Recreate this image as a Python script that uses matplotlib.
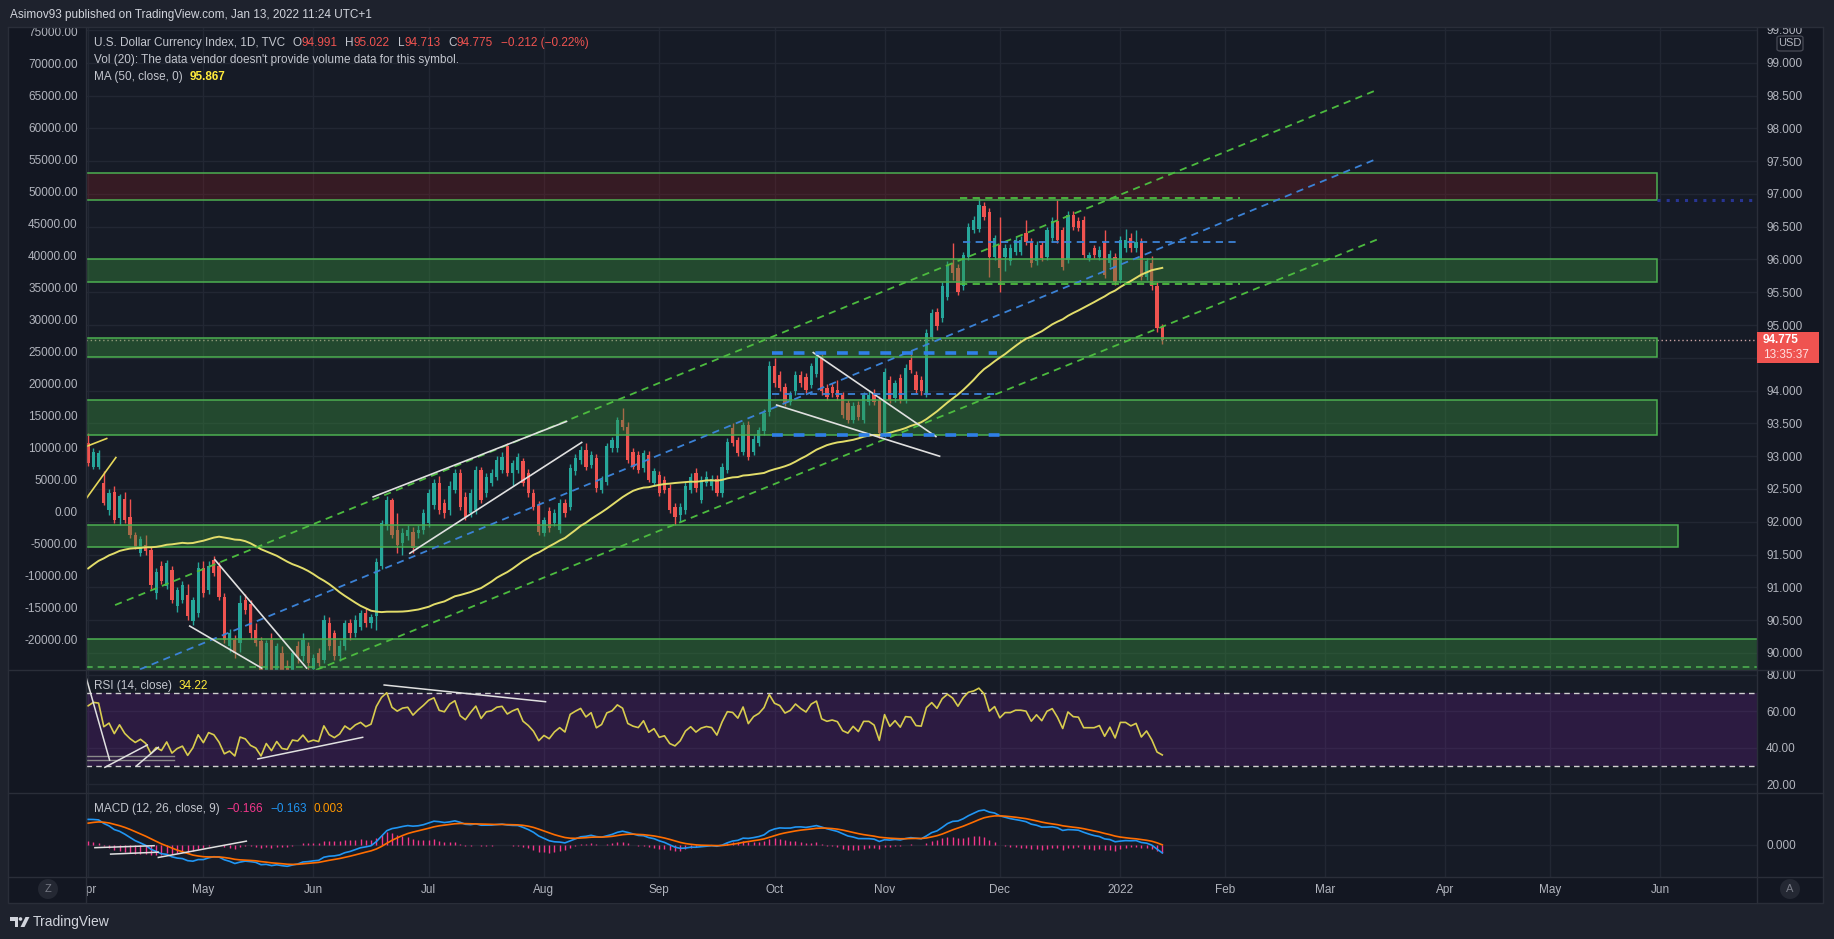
import numpy as np
import pandas as pd
import matplotlib
matplotlib.use('Agg')
import matplotlib.pyplot as plt
from matplotlib.patches import Rectangle, Ellipse, Polygon, FancyBboxPatch

plt.rcParams['font.family'] = ['Liberation Sans', 'DejaVu Sans']

W, H = 1834, 939

# daily candles, TVC:DXY, 2021-04-01 .. 2022-01-13
opens = [
    93.20, 92.84, 92.84, 92.59, 92.18, 92.46, 92.06, 92.34, 92.08, 91.80,
    91.52, 91.65, 91.57, 90.91, 91.32, 91.02, 91.27, 90.71, 90.81, 90.89,
    90.48, 90.61, 91.29, 90.96, 91.42, 91.32, 90.86, 90.10, 90.20, 90.15,
    90.81, 90.74, 90.35, 90.18, 89.65, 90.20, 89.70, 90.00, 89.80, 89.62,
    90.10, 89.95, 90.10, 89.75, 90.00, 89.90, 90.46, 90.30, 89.95, 90.10,
    90.45, 90.30, 90.40, 90.61, 90.45, 90.56, 91.32, 91.93, 92.33, 91.88,
    91.67, 91.78, 91.85, 91.83, 91.88, 91.98, 92.26, 92.59, 92.28, 92.18,
    92.49, 92.74, 92.38, 92.13, 92.18, 92.79, 92.44, 92.59, 92.69, 92.79,
    93.15, 92.74, 92.79, 92.92, 92.74, 92.44, 92.26, 91.83, 92.16, 91.98,
    91.88, 92.28, 92.23, 92.77, 92.94, 93.10, 92.87, 92.97, 92.49, 92.61,
    93.12, 93.12, 93.55, 93.45, 93.07, 93.02, 92.82, 93.02, 92.59, 92.71,
    92.64, 92.51, 92.23, 92.11, 92.18, 92.49, 92.74, 92.33, 92.59, 92.54,
    92.66, 92.44, 92.79, 93.43, 93.25, 93.07, 93.48, 93.07, 93.20, 93.38,
    93.68, 94.37, 94.24, 94.06, 93.83, 93.99, 94.24, 94.21, 94.09, 94.26,
    94.52, 94.04, 94.06, 94.01, 93.93, 93.81, 93.55, 93.78, 93.55, 93.83,
    93.96, 93.86, 93.35, 94.16, 93.88, 94.19, 93.86, 94.47, 94.24, 94.16,
    93.96, 94.82, 95.20, 95.10, 95.43, 95.94, 95.87, 95.59, 96.04, 96.45,
    96.47, 96.81, 96.73, 96.04, 96.22, 96.04, 95.97, 96.12, 96.12, 96.40,
    96.27, 95.97, 96.22, 96.04, 96.32, 96.58, 96.45, 95.99, 96.68, 96.58,
    96.60, 96.02, 96.17, 96.04, 96.27, 95.94, 96.04, 95.69, 96.17, 96.32,
    96.17, 96.27, 95.74, 95.94, 95.59, 94.991]
highs = [
    93.35, 93.12, 93.10, 92.77, 92.50, 92.55, 92.42, 92.45, 92.34, 91.85,
    91.78, 91.80, 91.62, 91.30, 91.40, 91.42, 91.33, 91.00, 91.10, 91.05,
    90.86, 91.38, 91.40, 91.40, 91.48, 91.38, 90.92, 90.36, 90.28, 90.88,
    90.90, 90.80, 90.45, 90.24, 90.20, 90.30, 90.15, 90.10, 89.90, 90.05,
    90.18, 90.30, 90.16, 89.98, 90.08, 90.58, 90.55, 90.35, 90.20, 90.50,
    90.52, 90.58, 90.66, 90.68, 90.60, 91.45, 92.03, 92.40, 92.36, 92.13,
    91.90, 91.95, 91.92, 91.95, 92.20, 92.50, 92.65, 92.70, 92.34, 92.62,
    92.80, 92.80, 92.46, 92.50, 92.85, 92.84, 92.75, 92.80, 93.00, 93.07,
    93.20, 92.94, 93.05, 92.98, 92.80, 92.50, 92.32, 92.08, 92.22, 92.20,
    92.35, 92.34, 92.88, 93.03, 93.15, 93.20, 93.08, 93.03, 92.70, 93.20,
    93.30, 93.60, 93.73, 93.52, 93.12, 93.08, 93.10, 93.08, 92.82, 92.78,
    92.70, 92.58, 92.28, 92.28, 92.60, 92.74, 92.82, 92.70, 92.78, 92.72,
    92.72, 92.90, 93.28, 93.50, 93.30, 93.52, 93.54, 93.32, 93.45, 93.72,
    94.45, 94.50, 94.30, 94.12, 94.00, 94.30, 94.30, 94.27, 94.42, 94.58,
    94.56, 94.10, 94.12, 94.16, 93.98, 93.86, 93.82, 93.84, 93.98, 93.99,
    94.02, 93.92, 94.35, 94.22, 94.16, 94.25, 94.40, 94.62, 94.30, 94.22,
    94.94, 95.24, 95.26, 95.65, 95.98, 96.25, 95.93, 96.12, 96.56, 96.66,
    96.93, 96.87, 96.78, 96.38, 96.65, 96.23, 96.23, 96.36, 96.36, 96.60,
    96.33, 96.28, 96.28, 96.50, 96.64, 96.91, 96.50, 96.74, 96.74, 96.64,
    96.66, 96.12, 96.22, 96.20, 96.45, 96.14, 96.10, 96.36, 96.47, 96.40,
    96.45, 96.33, 96.02, 96.05, 95.66, 95.022]
lows = [
    92.85, 92.80, 92.80, 92.25, 92.10, 91.98, 91.95, 91.98, 91.76, 91.58,
    91.48, 91.50, 90.98, 90.82, 91.05, 90.98, 90.76, 90.62, 90.76, 90.50,
    90.42, 90.55, 90.86, 90.90, 91.18, 90.80, 90.15, 90.02, 89.92, 90.02,
    90.60, 90.22, 90.10, 89.60, 89.60, 89.65, 89.60, 89.60, 89.50, 89.55,
    89.85, 89.88, 89.70, 89.65, 89.80, 89.85, 90.05, 89.90, 89.88, 90.05,
    90.20, 90.25, 90.35, 90.40, 90.38, 90.35, 91.28, 91.88, 91.75, 91.52,
    91.50, 91.72, 91.52, 91.76, 91.82, 91.92, 92.20, 92.12, 92.06, 92.10,
    92.44, 92.18, 92.02, 92.08, 92.12, 92.28, 92.38, 92.54, 92.64, 92.74,
    92.70, 92.54, 92.74, 92.54, 92.38, 92.18, 91.80, 91.78, 91.85, 91.93,
    91.83, 92.08, 92.18, 92.72, 92.88, 92.79, 92.82, 92.46, 92.44, 92.56,
    93.07, 93.07, 93.40, 92.90, 92.80, 92.74, 92.76, 92.60, 92.54, 92.40,
    92.44, 92.14, 91.95, 92.00, 92.12, 92.44, 92.46, 92.28, 92.54, 92.48,
    92.40, 92.38, 92.74, 93.15, 93.00, 93.02, 92.94, 93.02, 93.15, 93.33,
    93.62, 94.06, 94.00, 93.76, 93.78, 93.94, 94.06, 93.96, 94.04, 94.21,
    93.94, 93.86, 93.90, 93.86, 93.58, 93.50, 93.50, 93.55, 93.50, 93.78,
    93.78, 93.28, 93.30, 93.81, 93.83, 93.81, 93.81, 94.27, 93.96, 93.94,
    93.91, 94.77, 94.93, 95.05, 95.38, 95.69, 95.46, 95.54, 95.99, 96.40,
    96.42, 96.60, 95.74, 95.99, 95.51, 95.82, 95.92, 96.07, 96.07, 96.22,
    95.89, 95.92, 95.97, 95.99, 96.27, 96.25, 95.84, 95.94, 96.45, 96.43,
    96.02, 95.97, 96.02, 95.99, 95.71, 95.89, 95.61, 95.64, 96.12, 96.12,
    96.12, 95.69, 95.69, 95.54, 94.90, 94.713]
closes = [
    92.89, 93.07, 93.05, 92.29, 92.44, 92.03, 92.39, 92.03, 91.80, 91.62,
    91.73, 91.55, 91.04, 91.24, 91.09, 91.37, 90.81, 90.96, 91.04, 90.56,
    90.81, 91.29, 90.91, 91.32, 91.22, 90.86, 90.20, 90.30, 90.00, 90.76,
    90.66, 90.30, 90.15, 89.65, 90.15, 89.70, 90.10, 89.66, 89.60, 90.00,
    89.95, 90.20, 89.85, 89.92, 89.85, 90.51, 90.10, 89.95, 90.10, 90.45,
    90.30, 90.50, 90.61, 90.45, 90.55, 91.39, 91.98, 92.33, 91.80, 91.65,
    91.83, 91.88, 91.60, 91.88, 92.13, 92.44, 92.59, 92.18, 92.13, 92.54,
    92.74, 92.23, 92.08, 92.44, 92.79, 92.33, 92.69, 92.74, 92.94, 92.99,
    92.74, 92.89, 92.99, 92.59, 92.44, 92.23, 91.85, 92.03, 91.90, 92.13,
    92.28, 92.13, 92.82, 92.97, 93.10, 92.84, 93.02, 92.51, 92.64, 93.15,
    93.25, 93.55, 93.45, 92.94, 92.84, 92.79, 93.05, 92.64, 92.77, 92.44,
    92.49, 92.18, 92.08, 92.23, 92.54, 92.69, 92.51, 92.64, 92.69, 92.66,
    92.44, 92.84, 93.22, 93.20, 93.05, 93.48, 92.99, 93.27, 93.40, 93.66,
    94.37, 94.11, 94.04, 93.81, 93.93, 94.24, 94.11, 94.01, 94.37, 94.52,
    93.99, 93.91, 93.96, 93.91, 93.63, 93.55, 93.76, 93.60, 93.93, 93.93,
    93.83, 93.35, 94.29, 93.86, 94.11, 93.86, 94.34, 94.32, 94.01, 93.99,
    94.88, 95.18, 94.98, 95.59, 95.92, 95.79, 95.51, 96.07, 96.50, 96.60,
    96.83, 96.65, 96.04, 96.32, 95.87, 96.17, 96.17, 96.30, 96.30, 96.27,
    95.94, 96.22, 96.02, 96.45, 96.58, 96.30, 95.89, 96.68, 96.50, 96.48,
    96.07, 96.07, 96.07, 96.15, 95.76, 96.09, 95.66, 96.30, 96.30, 96.17,
    96.27, 95.74, 95.97, 95.59, 94.95, 94.775]

# closes before the visible range (Jan 19 .. Mar 31 2021), only to seed MA / RSI / MACD
warmup_closes = [
    90.48, 90.49, 90.08, 90.23, 90.38, 90.17, 90.46, 90.58,
    91.04, 91.02, 91.29, 91.53, 91.05, 91.04, 90.93, 90.43, 90.44, 90.48,
    90.36, 90.50, 90.91, 90.59, 90.36, 90.09, 90.13, 90.03, 90.16, 90.88,
    90.99, 90.85, 91.00, 91.63, 91.94, 92.34, 91.94, 91.83, 91.46, 91.67,
    91.92, 91.81, 91.94, 91.42, 91.90, 91.86, 92.33, 92.55, 92.78, 92.69,
    92.96, 93.32, 93.23]

# support / resistance zones (price)
zone_lo = [96.90, 95.65, 94.52, 93.33, 91.61, 89.40]
zone_hi = [97.32, 96.00, 94.80, 93.86, 91.95, 90.21]
zone_end = [299.5, 299.5, 299.5, 299.5, 303.5, 340.0]
zone_red = [True, False, False, False, False, False]

# drawings: (bar0, price0, bar1, price1)
channel_green = [(5.15, 90.73, 245.5, 98.57), (43.5, 89.74, 246.5, 96.32)]
channel_blue = [(9.9, 89.75, 245.5, 97.52)]
white_lines = [(138.4, 94.58, 161.8, 93.30), (131.4, 93.78, 162.5, 93.00),
               (54.4, 92.38, 91.3, 93.53), (61.4, 91.52, 94.2, 93.21),
               (24.2, 91.42, 41.7, 89.77), (19.4, 90.41, 33.1, 89.77)]
yellow_lines = [(-0.3, 93.15, 3.55, 93.27), (-0.3, 92.36, 5.3, 92.98)]
# horizontal dashed levels: (price, bar0, bar1)
green_levels = [(96.93, 166.4, 219.8), (95.63, 166.4, 219.8)]
blue_levels_thin = [(96.27, 167.0, 220.0), (93.95, 130.5, 173.0)]
blue_levels_thick = [(94.57, 130.5, 173.4), (93.33, 130.5, 174.0)]
rsi_lines = [(-0.6, 80.9, 4.1, 33.2), (3.2, 29.2, 11.3, 41.5), (9.2, 29.9, 13.4, 40.2),
             (32.4, 33.8, 52.4, 45.7), (56.5, 74.5, 87.3, 65.3)]
rsi_gray = [(35.4, -0.6, 16.4), (33.2, -0.6, 16.4)]
macd_lines = [(1.3, -0.056, 12.6, -0.015), (4.3, -0.19, 13.4, -0.15),
              (13.4, -0.26, 30.2, 0.08)]

price_ticks = np.arange(90.0, 99.51, 0.5)
vol_ticks = np.arange(-20000, 75001, 5000)

# ---- indicators
o = np.array(opens); h = np.array(highs); l = np.array(lows); c = np.array(closes)
n = len(c)
nw = len(warmup_closes)
full = pd.Series(warmup_closes + closes)
ma50 = full.rolling(50).mean().values[nw:]
delta = full.diff()
gain = delta.clip(lower=0).ewm(alpha=1 / 14, adjust=False).mean()
loss = (-delta.clip(upper=0)).ewm(alpha=1 / 14, adjust=False).mean()
rsi = (100 - 100 / (1 + gain / loss)).values[nw:]
macd_s = full.ewm(span=12, adjust=False).mean() - full.ewm(span=26, adjust=False).mean()
sig_s = macd_s.ewm(span=9, adjust=False).mean()
macd = macd_s.values[nw:]
sig = sig_s.values[nw:]
hist = macd - sig

# dates: history + future (US holidays skipped in the future part)
x_left, x_right = -0.4, 318.5
hist_dates = pd.bdate_range('2021-04-01', '2022-01-13')
fut = pd.bdate_range('2022-01-14', '2022-07-29')
fut = fut[~fut.isin(pd.to_datetime(['2022-01-17', '2022-02-21', '2022-04-15', '2022-05-30']))]
dates = hist_dates.append(fut)
month_pos, month_lab = [], []
for i in range(len(dates)):
    if i > x_right - 3:
        break
    if i == 0 or dates[i].month != dates[i - 1].month:
        month_pos.append(i)
        month_lab.append(str(dates[i].year) if dates[i].month == 1 else dates[i].strftime('%b'))

# ---- colours
bg_fig = '#1e222d'
bg_axis = '#131722'
bg_pane = '#161b26'
grid_col = '#222733'
sep_col = '#2a2e39'
txt = '#b2b5be'
up_col = '#26a69a'
dn_col = '#ef5350'


def fx(x):
    return x / W


def fy(y):
    return 1 - y / H


def box(x0, y0, x1, y1):
    return [x0 / W, 1 - y1 / H, (x1 - x0) / W, (y1 - y0) / H]


fig = plt.figure(figsize=(W / 100, H / 100), dpi=100, facecolor=bg_fig)
fig.add_artist(Rectangle((fx(8), fy(903)), (1823 - 8) / W, (903 - 26) / H,
                         transform=fig.transFigure, facecolor=bg_axis,
                         edgecolor=sep_col, lw=1, zorder=-1))

ax = fig.add_axes(box(86, 26, 1757, 670), facecolor=bg_pane)
# left "volume" scale; twinx moves the main ticks, so it is made first
axl = ax.twinx()
ax_rsi = fig.add_axes(box(86, 670, 1757, 793), facecolor=bg_pane)
ax_macd = fig.add_axes(box(86, 793, 1757, 877), facecolor=bg_pane)
ax_time = fig.add_axes(box(86, 877, 1757, 903), facecolor=bg_axis)

for a in (ax, ax_rsi, ax_macd, ax_time):
    a.set_xlim(x_left, x_right)
    for s in a.spines.values():
        s.set_visible(False)
    a.set_xticks(month_pos)
    a.tick_params(axis='x', length=0, labelbottom=False)
    a.set_axisbelow(True)
for a in (ax, ax_rsi, ax_macd):
    a.grid(color=grid_col, lw=1)
    a.yaxis.tick_right()
    a.tick_params(axis='y', which='both', length=0, pad=6.5, labelsize=8.5,
                  labelcolor=txt, left=False, labelleft=False, right=True, labelright=True)
ax_time.set_yticks([])

# main pane scales (94.500 sits under the last-price label)
ax.set_ylim(89.74, 99.56)
ax.set_yticks(price_ticks)
ax.set_yticklabels(['' if abs(v - 94.5) < 1e-6 else f'{v:.3f}' for v in price_ticks])

axl.set_ylim(-24687.5, 75937.5)
axl.set_yticks(vol_ticks)
axl.set_yticklabels([f'{v:.2f}' for v in vol_ticks])
axl.tick_params(axis='y', length=0, pad=6, labelsize=8.5, labelcolor=txt,
                left=True, labelleft=True, right=False, labelright=False)
axl.grid(False)
for s in axl.spines.values():
    s.set_visible(False)

# candles
x = np.arange(n)
cols = np.where(c >= o, up_col, dn_col)
ax.vlines(x, l, h, colors=cols, lw=1, zorder=2)
ax.bar(x, np.maximum(np.abs(c - o), 0.012), bottom=np.minimum(o, c), width=0.62,
       color=cols, lw=0, zorder=2)

# last price line
ax.axhline(c[-1], color='#c9a3a3', lw=1, ls=(0, (1, 2)), zorder=2.5)

# zones (drawn over candles)
for lo, hi, end, red in zip(zone_lo, zone_hi, zone_end, zone_red):
    fc = (0.72, 0.11, 0.11, 0.2) if red else (0.22, 0.56, 0.24, 0.4)
    ax.add_patch(Rectangle((-5, lo), end + 5, hi - lo, facecolor=fc,
                           edgecolor='#4caf50', lw=1.1, zorder=3))
ax.plot([zone_end[0], 330], [zone_lo[0], zone_lo[0]], color='#283593', lw=2.2,
        ls=(0, (1, 2)), zorder=3)
ax.axhline(89.79, color='#4caf50', lw=1.2, ls=(0, (4, 3)), zorder=3.5)

ax.plot(x, ma50, color='#e2dd6a', lw=1.4, zorder=5)

for x0, y0, x1, y1 in channel_green:
    ax.plot([x0, x1], [y0, y1], color='#4cbb3f', lw=1.3, ls=(0, (4, 3)), zorder=6)
for x0, y0, x1, y1 in channel_blue:
    ax.plot([x0, x1], [y0, y1], color='#3b82d6', lw=1.3, ls=(0, (4, 3)), zorder=6)
for x0, y0, x1, y1 in white_lines:
    ax.plot([x0, x1], [y0, y1], color='#e0e0e0', lw=1.2, zorder=6)
for x0, y0, x1, y1 in yellow_lines:
    ax.plot([x0, x1], [y0, y1], color='#e6d85a', lw=1.2, zorder=6)
for p, x0, x1 in green_levels:
    ax.plot([x0, x1], [p, p], color='#4cbb3f', lw=1.3, ls=(0, (4, 3)), zorder=6)
for p, x0, x1 in blue_levels_thin:
    ax.plot([x0, x1], [p, p], color='#3b82d6', lw=1.3, ls=(0, (4, 3)), zorder=6)
for p, x0, x1 in blue_levels_thick:
    ax.plot([x0, x1], [p, p], color='#2f7fe8', lw=2.6, ls=(0, (3, 3)), zorder=6)

# RSI pane
ax_rsi.set_ylim(15.06, 82.75)
ax_rsi.set_yticks([20, 40, 60, 80])
ax_rsi.set_yticklabels(['20.00', '40.00', '60.00', '80.00'])
ax_rsi.axhspan(30, 70, color='#7b1fa2', alpha=0.22, lw=0, zorder=1)
for lev in (70, 30):
    ax_rsi.axhline(lev, color='#d0d0d0', lw=1, ls=(0, (4, 3)), zorder=2)
ax_rsi.plot(x, rsi, color='#d8cc4e', lw=1.2, zorder=4)
for p, x0, x1 in rsi_gray:
    ax_rsi.plot([x0, x1], [p, p], color='#8a8a8a', lw=1, zorder=3)
for x0, y0, x1, y1 in rsi_lines:
    ax_rsi.plot([x0, x1], [y0, y1], color='#e0e0e0', lw=1.1, zorder=5)

# MACD pane
ax_macd.set_ylim(-0.667, 1.083)
ax_macd.set_yticks([0])
ax_macd.set_yticklabels(['0.000'])
ax_macd.vlines(x, 0, hist, colors='#f2368a', lw=1, zorder=2)
ax_macd.plot(x, macd, color='#2196f3', lw=1.2, zorder=3)
ax_macd.plot(x, sig, color='#ff6d00', lw=1.2, zorder=4)
for x0, y0, x1, y1 in macd_lines:
    ax_macd.plot([x0, x1], [y0, y1], color='#e0e0e0', lw=1.1, zorder=5)

# time scale
for pos, lab in zip(month_pos, month_lab):
    ax_time.text(pos, 0.5, lab, transform=ax_time.get_xaxis_transform(), ha='center',
                 va='center', color=txt, fontsize=8.5, clip_on=True)

# separators
for yy in (670, 793, 877):
    fig.add_artist(plt.Line2D([fx(8), fx(1823)], [fy(yy), fy(yy)], color=sep_col, lw=1,
                              transform=fig.transFigure, zorder=2))
for xx in (86, 1757):
    fig.add_artist(plt.Line2D([fx(xx), fx(xx)], [fy(26), fy(903)], color=sep_col, lw=1,
                              transform=fig.transFigure, zorder=2))

# top strip hides the clipped top label
fig.add_artist(Rectangle((0, fy(27)), 1, 27 / H, transform=fig.transFigure,
                         facecolor=bg_fig, lw=0, zorder=3))
fig.add_artist(plt.Line2D([fx(8), fx(1823)], [fy(27), fy(27)], color=sep_col, lw=1,
                          transform=fig.transFigure, zorder=3))

renderer = fig.canvas.get_renderer()


def text_row(x0, y0, parts, size=8.5):
    xx = x0
    for s, col, gap, bold in parts:
        t = fig.text(fx(xx), fy(y0), s, color=col, fontsize=size, va='center', ha='left',
                     fontweight='bold' if bold else 'normal', zorder=6)
        xx += t.get_window_extent(renderer).width + gap


lt = '#c3c6ce'
fig.text(fx(10), fy(15), 'Asimov93 published on TradingView.com, Jan 13, 2022 11:24 UTC+1',
         color='#d1d4dc', fontsize=8.5, va='center', ha='left', zorder=6)
text_row(94, 43, [('U.S. Dollar Currency Index, 1D, TVC', lt, 7, False),
                  ('O', lt, 0, False), ('94.991', dn_col, 8, False),
                  ('H', lt, 0, False), ('95.022', dn_col, 8, False),
                  ('L', lt, 0, False), ('94.713', dn_col, 8, False),
                  ('C', lt, 0, False), ('94.775', dn_col, 8, False),
                  ('\u22120.212 (\u22120.22%)', dn_col, 0, False)])
text_row(94, 60, [("Vol (20): The data vendor doesn't provide volume data for this symbol.",
                   lt, 0, False)])
text_row(94, 77, [('MA (50, close, 0)', lt, 7, False), ('95.867', '#ffeb3b', 0, True)])
text_row(94, 686, [('RSI (14, close)', lt, 7, False), ('34.22', '#ffeb3b', 0, False)])
text_row(94, 809, [('MACD (12, 26, close, 9)', lt, 7, False),
                   ('\u22120.166', '#f2368a', 7, False), ('\u22120.163', '#2196f3', 7, False),
                   ('0.003', '#ff9800', 0, False)])

# USD badge and last price label
fig.add_artist(FancyBboxPatch((fx(1777), fy(51)), 26 / W, 15 / H,
                              boxstyle='round,pad=0,rounding_size=0.002',
                              transform=fig.transFigure, facecolor=bg_axis,
                              edgecolor='#434651', lw=1, zorder=4))
fig.text(fx(1790), fy(43.5), 'USD', color=txt, fontsize=8, ha='center', va='center', zorder=6)
fig.add_artist(Rectangle((fx(1757), fy(363)), 62 / W, 31 / H, transform=fig.transFigure,
                         facecolor='#ef5350', lw=0, zorder=4))
fig.text(fx(1763), fy(340), '94.775', color='white', fontsize=8.5, fontweight='bold',
         ha='left', va='center', zorder=6)
fig.text(fx(1763), fy(355), '13:35:37', color='#ffe0e0', fontsize=8.5, ha='left',
         va='center', zorder=6)

# scale buttons
for cx, lab in ((48, 'Z'), (1790, 'A')):
    fig.add_artist(Ellipse((fx(cx), fy(889)), 20 / W, 20 / H, transform=fig.transFigure,
                           facecolor='#242833', lw=0, zorder=4))
    fig.text(fx(cx), fy(889), lab, color='#787b86', fontsize=8, ha='center', va='center',
             zorder=6)

# TradingView logo + name
logo = '#d1d4dc'
fig.add_artist(Polygon([(fx(10), fy(917)), (fx(18), fy(917)), (fx(18), fy(927)),
                        (fx(14.5), fy(927)), (fx(14.5), fy(920.5)), (fx(10), fy(920.5))],
                       closed=True, transform=fig.transFigure, facecolor=logo, lw=0, zorder=4))
fig.add_artist(Ellipse((fx(20.5), fy(919)), 3.6 / W, 3.6 / H, transform=fig.transFigure,
                       facecolor=logo, lw=0, zorder=4))
fig.add_artist(Polygon([(fx(25.5), fy(917)), (fx(29.5), fy(917)), (fx(24.5), fy(927)),
                        (fx(20.5), fy(927))], closed=True, transform=fig.transFigure,
                       facecolor=logo, lw=0, zorder=4))
fig.text(fx(33), fy(922), 'TradingView', color=logo, fontsize=10, ha='left', va='center',
         zorder=6)

fig.savefig('out.png', dpi=100, facecolor=bg_fig)
